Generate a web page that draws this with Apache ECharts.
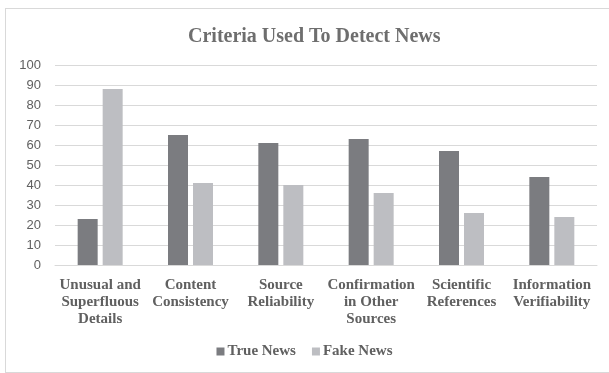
<!DOCTYPE html>
<html>
<head>
<meta charset="utf-8">
<script src="https://cdn.jsdelivr.net/npm/echarts@6/dist/echarts.min.js"></script>
<style>
html,body{margin:0;padding:0;background:#fff;}
#frame{position:absolute;left:5px;top:8px;width:620px;height:365px;border:1px solid #d9d9d9;box-sizing:border-box;}
#chart{position:absolute;left:0;top:0;width:609px;height:373px;}
</style>
</head>
<body>
<div id="frame"></div>
<div id="chart"></div>
<script>
const categories = ["Unusual and\nSuperfluous\nDetails", "Content\nConsistency", "Source\nReliability", "Confirmation\nin Other\nSources", "Scientific\nReferences", "Information\nVerifiability"];
const trueNews = [23, 65, 61, 63, 57, 44];
const fakeNews = [88, 41, 40, 36, 26, 24];
const yTicks = { min: 0, max: 100, interval: 10 };

const chart = echarts.init(document.getElementById('chart'), null, {renderer: 'canvas'});
const serif = '"Liberation Serif", "Times New Roman", serif';
chart.setOption({
  animation: false,
  title: {
    text: 'Criteria Used To Detect News',
    left: 183, top: 22,
    textStyle: { fontFamily: serif, fontWeight: 'bold', fontSize: 20, color: '#6e6e6e' }
  },
  legend: {
    bottom: 9, left: 'center',
    itemWidth: 8, itemHeight: 8, itemGap: 16,
    icon: 'rect',
    textStyle: { fontFamily: serif, fontWeight: 'bold', fontSize: 15, color: '#606060', padding: [0,0,0,-2] },
    data: ['True News', 'Fake News']
  },
  grid: { left: 55, right: 12, top: 65, bottom: 108, containLabel: false },
  xAxis: {
    type: 'category',
    data: categories,
    axisLine: { lineStyle: { color: '#d9d9d9', width: 1 } },
    axisTick: { show: false },
    axisLabel: { fontFamily: serif, fontWeight: 'bold', fontSize: 15, color: '#606060', lineHeight: 17, margin: 12, interval: 0 }
  },
  yAxis: {
    type: 'value',
    min: yTicks.min, max: yTicks.max, interval: yTicks.interval,
    axisLine: { show: false },
    axisTick: { show: false },
    splitLine: { lineStyle: { color: '#d9d9d9', width: 1 } },
    axisLabel: { fontFamily: '"Liberation Sans", Arial, sans-serif', fontSize: 13, color: '#606060', margin: 14 }
  },
  series: [
    { name: 'True News', type: 'bar', data: trueNews, barWidth: 20, barGap: '25%', itemStyle: { color: '#7b7c80' } },
    { name: 'Fake News', type: 'bar', data: fakeNews, barWidth: 20, itemStyle: { color: '#bdbec2' } }
  ]
});
</script>
</body>
</html>
